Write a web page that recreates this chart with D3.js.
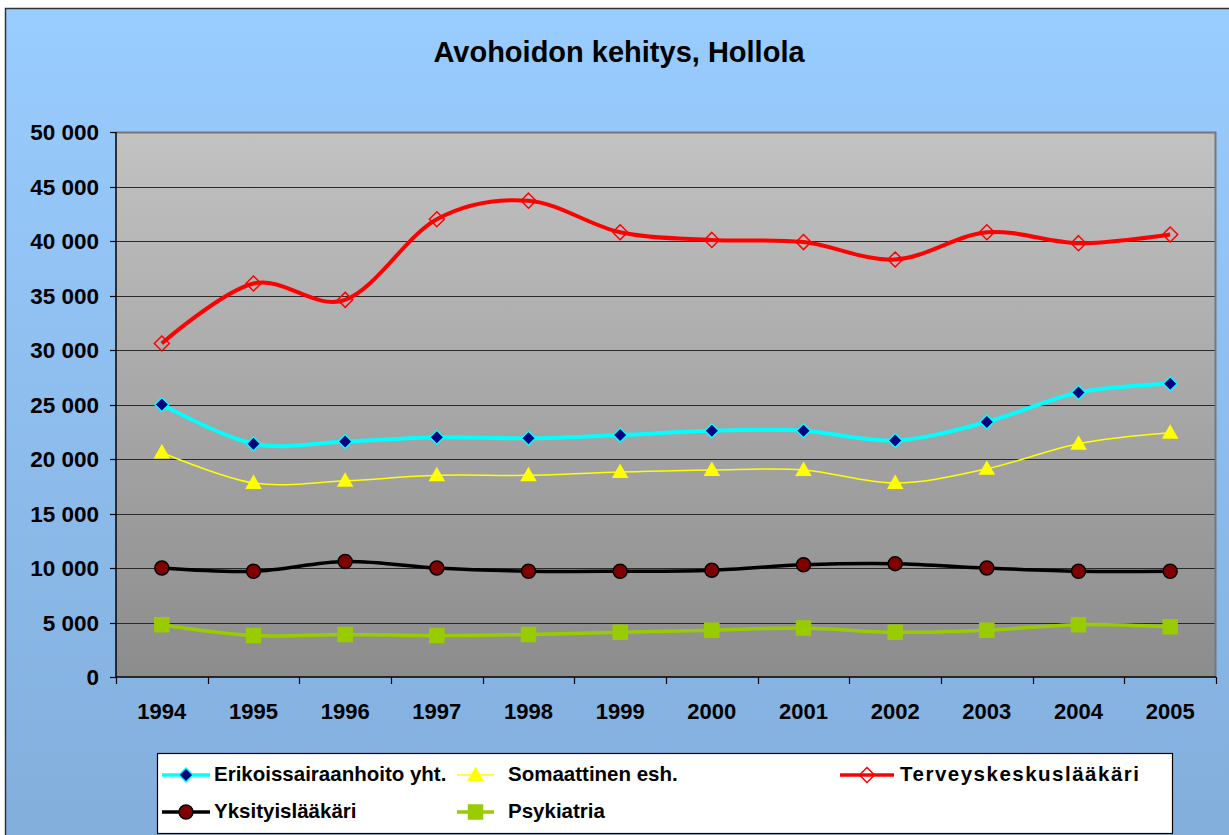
<!DOCTYPE html>
<html>
<head>
<meta charset="utf-8">
<script src="https://cdn.jsdelivr.net/npm/d3@7"></script>
<style>
  body { margin: 0; background: #fff; }
  svg { display: block; font-family: "Liberation Sans", Arial, sans-serif; }
</style>
</head>
<body>
<svg id="chart" width="1229" height="835"></svg>
<script>
// data
var years = ['1994', '1995', '1996', '1997', '1998', '1999', '2000', '2001', '2002', '2003', '2004', '2005'];
var yTicks = [0, 5000, 10000, 15000, 20000, 25000, 30000, 35000, 40000, 45000, 50000];

var erikoissairaanhoito = [25000, 21400, 21600, 22000, 21900, 22200, 22600, 22600, 21700, 23400, 26100, 26900];
var somaattinen = [20600, 17800, 18000, 18500, 18500, 18800, 19000, 19000, 17800, 19100, 21400, 22400];
var terveyskeskus = [30600, 36100, 34600, 42000, 43700, 40800, 40100, 39900, 38300, 40800, 39800, 40600];
var yksityis = [10000, 9700, 10600, 10000, 9700, 9700, 9800, 10300, 10400, 10000, 9700, 9700];
var psykiatria = [4800, 3800, 3900, 3800, 3900, 4100, 4300, 4500, 4100, 4300, 4800, 4600];

var seriesNames = ['Erikoissairaanhoito yht.', 'Somaattinen esh.', 'Terveyskeskuslääkäri', 'Yksityislääkäri', 'Psykiatria'];

var series = [
    { name: seriesNames[0], values: erikoissairaanhoito, color: '#00FFFF', width: 4, marker: 'diamond', fill: '#000080', mstroke: '#00FFFF', size: 14 },
    { name: seriesNames[1], values: somaattinen, color: '#FFFF00', width: 1.5, marker: 'triangle', fill: '#FFFF00', mstroke: '#FFFF00', size: 14 },
    { name: seriesNames[2], values: terveyskeskus, color: '#FF0000', width: 4, marker: 'diamond', fill: 'none', mstroke: '#FF0000', size: 15 },
    { name: seriesNames[3], values: yksityis, color: '#000000', width: 3.5, marker: 'circle', fill: '#800000', mstroke: '#000000', size: 14 },
    { name: seriesNames[4], values: psykiatria, color: '#99CC00', width: 3.5, marker: 'square', fill: '#99CC00', mstroke: '#99CC00', size: 14 }
];

var svg = d3.select('#chart');
var defs = svg.append('defs');

var bgGrad = defs.append('linearGradient').attr('id', 'bg').attr('x1', 0).attr('y1', 0).attr('x2', 0).attr('y2', 1);
bgGrad.append('stop').attr('offset', '0%').attr('stop-color', '#99CCFF');
bgGrad.append('stop').attr('offset', '100%').attr('stop-color', '#82AEDB');

var plotGrad = defs.append('linearGradient').attr('id', 'plotbg').attr('x1', 0).attr('y1', 0).attr('x2', 0).attr('y2', 1);
plotGrad.append('stop').attr('offset', '0%').attr('stop-color', '#C2C2C2');
plotGrad.append('stop').attr('offset', '100%').attr('stop-color', '#8C8C8C');

// chart area
svg.append('rect')
    .attr('x', 5.5).attr('y', 8.5)
    .attr('width', 1240).attr('height', 840)
    .attr('fill', 'url(#bg)')
    .attr('stroke', '#333').attr('stroke-width', 1.5);

// title
svg.append('text')
    .attr('x', 619).attr('y', 62)
    .attr('text-anchor', 'middle')
    .style('font-size', '29px').style('font-weight', 'bold')
    .text('Avohoidon kehitys, Hollola');

var plotLeft = 116, plotRight = 1216, plotTop = 132, plotBottom = 677;

var x = d3.scaleBand().domain(years).range([plotLeft, plotRight]).padding(0);
var y = d3.scaleLinear().domain([0, 50000]).range([plotBottom, plotTop]);
var cx = function (i) { return x(years[i]) + x.bandwidth() / 2; };

// plot area
svg.append('rect')
    .attr('x', plotLeft).attr('y', plotTop)
    .attr('width', plotRight - plotLeft).attr('height', plotBottom - plotTop)
    .attr('fill', 'url(#plotbg)');

// gridlines
svg.append('g').selectAll('line')
    .data(yTicks.filter(function (d) { return d > 0 && d < 50000; }))
    .enter().append('line')
    .attr('x1', plotLeft).attr('x2', plotRight)
    .attr('y1', function (d) { return Math.round(y(d)) + 0.5; })
    .attr('y2', function (d) { return Math.round(y(d)) + 0.5; })
    .attr('stroke', '#2a2a2a').attr('stroke-width', 1.2);

// plot border top / right
svg.append('path')
    .attr('d', 'M' + plotLeft + ',' + (plotTop + 0.5) + 'H' + (plotRight - 0.5) + 'V' + plotBottom)
    .attr('fill', 'none').attr('stroke', '#777').attr('stroke-width', 2);

// y axis
var yAxis = svg.append('g');
yAxis.append('line')
    .attr('x1', plotLeft).attr('x2', plotLeft).attr('y1', plotTop).attr('y2', plotBottom)
    .attr('stroke', '#000').attr('stroke-width', 1.5);
yAxis.selectAll('.tick').data(yTicks).enter().append('line')
    .attr('x1', plotLeft - 6).attr('x2', plotLeft)
    .attr('y1', function (d) { return Math.round(y(d)) + 0.5; })
    .attr('y2', function (d) { return Math.round(y(d)) + 0.5; })
    .attr('stroke', '#000').attr('stroke-width', 1.2);
var fmt = function (d) { return d3.format(',')(d).replace(/,/g, ' '); };
yAxis.selectAll('text').data(yTicks).enter().append('text')
    .attr('x', 99)
    .attr('y', function (d) { return y(d); })
    .attr('dy', '0.36em')
    .attr('text-anchor', 'end')
    .style('font-size', '22.5px').style('font-weight', 'bold')
    .text(fmt);

// x axis
var xAxis = svg.append('g');
xAxis.append('line')
    .attr('x1', plotLeft).attr('x2', plotRight).attr('y1', plotBottom).attr('y2', plotBottom)
    .attr('stroke', '#000').attr('stroke-width', 1.5);
var edges = years.map(function (d) { return x(d); }).concat([plotRight]);
xAxis.selectAll('.tick').data(edges).enter().append('line')
    .attr('x1', function (d) { return Math.round(d) + 0.5; })
    .attr('x2', function (d) { return Math.round(d) + 0.5; })
    .attr('y1', plotBottom).attr('y2', plotBottom + 7)
    .attr('stroke', '#000').attr('stroke-width', 1.2);
xAxis.selectAll('text').data(years).enter().append('text')
    .attr('x', function (d) { return x(d) + x.bandwidth() / 2; })
    .attr('y', 719)
    .attr('text-anchor', 'middle')
    .style('font-size', '22px').style('font-weight', 'bold')
    .text(function (d) { return d; });

function markerPath(type, s) {
    var h = s / 2;
    if (type === 'diamond') return 'M0,' + (-h) + 'L' + h + ',0L0,' + h + 'L' + (-h) + ',0Z';
    if (type === 'triangle') return 'M0,' + (-h) + 'L' + h + ',' + (h * 0.75) + 'L' + (-h) + ',' + (h * 0.75) + 'Z';
    if (type === 'square') return 'M' + (-h) + ',' + (-h) + 'H' + h + 'V' + h + 'H' + (-h) + 'Z';
    return null;
}

function drawMarker(g, s, px, py) {
    if (s.marker === 'circle') {
        g.append('circle')
            .attr('cx', px).attr('cy', py).attr('r', s.size / 2)
            .attr('fill', s.fill).attr('stroke', s.mstroke).attr('stroke-width', 1.5);
    } else {
        g.append('path')
            .attr('d', markerPath(s.marker, s.size))
            .attr('transform', 'translate(' + px + ',' + py + ')')
            .attr('fill', s.fill).attr('stroke', s.mstroke).attr('stroke-width', 1.5);
    }
}

var line = d3.line()
    .x(function (d, i) { return cx(i); })
    .y(function (d) { return y(d); })
    .curve(d3.curveCatmullRom.alpha(0));

series.forEach(function (s) {
    var g = svg.append('g');
    g.append('path')
        .attr('d', line(s.values))
        .attr('fill', 'none')
        .attr('stroke', s.color)
        .attr('stroke-width', s.width)
        .attr('stroke-linejoin', 'round');
    s.values.forEach(function (v, i) {
        drawMarker(g, s, cx(i), y(v));
    });
});

// legend
var legend = svg.append('g');
legend.append('rect')
    .attr('x', 157.5).attr('y', 753.5)
    .attr('width', 1015).attr('height', 80)
    .attr('fill', '#fff').attr('stroke', '#000').attr('stroke-width', 1.2);

var legendPos = [
    { x1: 162, x2: 210, tx: 214, ly: 775, ty: 781 },
    { x1: 457, x2: 494, tx: 508, ly: 775, ty: 781 },
    { x1: 840, x2: 894, tx: 900, ly: 775, ty: 781 },
    { x1: 162, x2: 210, tx: 214, ly: 812, ty: 818 },
    { x1: 457, x2: 494, tx: 508, ly: 812, ty: 818 }
];

series.forEach(function (s, i) {
    var p = legendPos[i];
    legend.append('line')
        .attr('x1', p.x1).attr('x2', p.x2).attr('y1', p.ly).attr('y2', p.ly)
        .attr('stroke', s.color).attr('stroke-width', Math.min(s.width, 3.5));
    drawMarker(legend, s, (p.x1 + p.x2) / 2, p.ly);
    legend.append('text')
        .attr('x', p.tx).attr('y', p.ty)
        .style('font-size', '20.5px').style('font-weight', 'bold')
        .style('letter-spacing', i === 2 ? '1.5px' : '0px')
        .text(s.name);
});
</script>
</body>
</html>
